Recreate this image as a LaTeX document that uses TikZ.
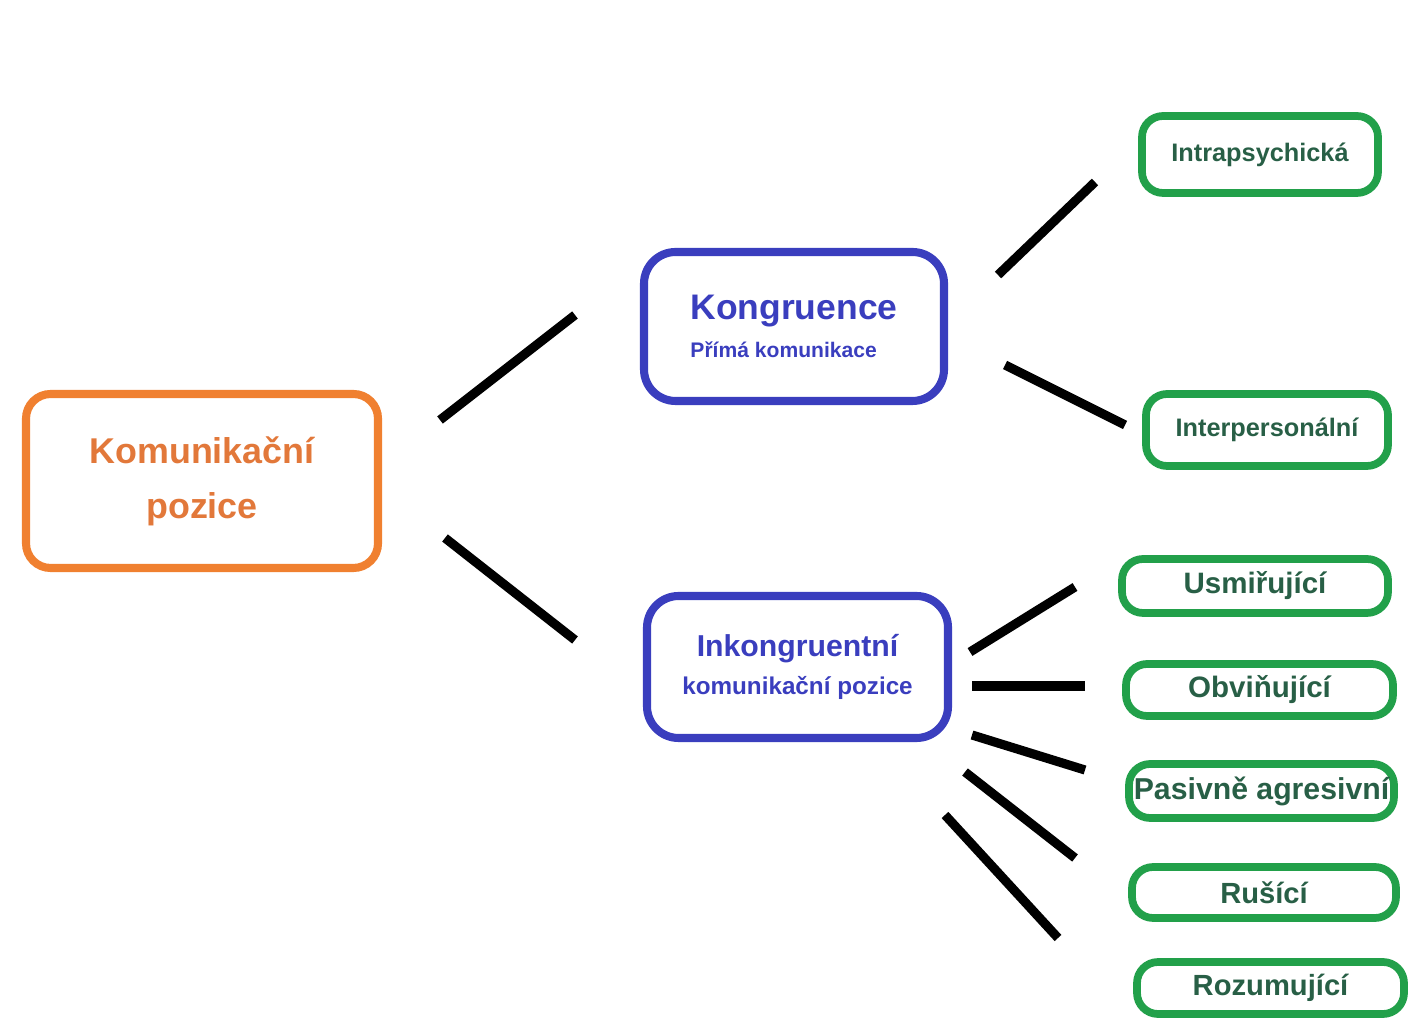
\documentclass[tikz,border=0pt]{standalone}
\usepackage{fontspec}
\setmainfont{Liberation Sans}
\usepackage{tikz}
\usetikzlibrary{positioning,calc}
\definecolor{kor}{RGB}{240,128,48}
\definecolor{kortext}{RGB}{226,120,58}
\definecolor{kblue}{RGB}{58,62,190}
\definecolor{kgreen}{RGB}{34,160,74}
\definecolor{kgtext}{RGB}{40,95,70}
\tikzset{
  orbox/.style={draw=kor,line width=2.3pt,rounded corners=7pt,text=kortext,font=\bfseries,align=center},
  blbox/.style={draw=kblue,line width=2.3pt,rounded corners=9pt,text=kblue,font=\bfseries},
  grbox/.style={draw=kgreen,line width=2.2pt,rounded corners=6pt,text=kgtext,font=\bfseries,inner sep=0pt},
  link/.style={line width=2.6pt,black}
}
\begin{document}
\begin{tikzpicture}
\useasboundingbox (0,0) rectangle (14.12,10.22);

\node [orbox,minimum width=3.52cm,minimum height=1.74cm,font=\bfseries\fontsize{10.2}{15.6}\selectfont] (kom) at (2.02,5.41)
  {Komunikační\\ pozice};

\node [blbox,minimum width=3.0cm,minimum height=1.49cm,align=left] (kon) at (7.94,6.955)
  {\fontsize{10.1}{13}\selectfont Kongruence\\[-1pt] \fontsize{6}{8}\selectfont Přímá komunikace};
\node [blbox,minimum width=3.01cm,minimum height=1.42cm,align=center] (ink) at (7.975,3.55)
  {\fontsize{8.6}{11}\selectfont Inkongruentní\\[-1pt] \fontsize{6.9}{9}\selectfont komunikační pozice};

% vetev kongruence
\node [grbox,minimum width=2.36cm,minimum height=0.77cm,font=\bfseries\fontsize{7.2}{9}\selectfont] (intra) at (12.60,8.675) {Intrapsychická};
\node [grbox,minimum width=2.42cm,minimum height=0.72cm,font=\bfseries\fontsize{7.2}{9}\selectfont] (inter) at (12.67,5.92) {Interpersonální};

% vetev inkongruence
\node [grbox,minimum width=2.66cm,minimum height=0.54cm,font=\bfseries\fontsize{8.4}{10}\selectfont] (usm) at (12.55,4.36) {Usmiřující};
\node [grbox,minimum width=2.67cm,minimum height=0.52cm,font=\bfseries\fontsize{8.4}{10}\selectfont] (obv) at (12.595,3.32) {Obviňující};
\node [grbox,minimum width=2.65cm,minimum height=0.54cm,font=\bfseries\fontsize{8.6}{10}\selectfont] (pas) at (12.615,2.31) {Pasivně agresivní};
\node [grbox,minimum width=2.64cm,minimum height=0.51cm,font=\bfseries\fontsize{8.3}{10}\selectfont] (rus) at (12.64,1.295) {Rušící};
\node [grbox,minimum width=2.67cm,minimum height=0.52cm,font=\bfseries\fontsize{8.3}{10}\selectfont] (roz) at (12.705,0.34) {Rozumující};

% konce car
\coordinate (a1) at (4.40,6.02);  \coordinate (b1) at (5.75,7.07);
\coordinate (a2) at (4.45,4.84);  \coordinate (b2) at (5.75,3.82);
\coordinate (a3) at (9.98,7.47);  \coordinate (b3) at (10.95,8.40);
\coordinate (a4) at (10.05,6.57); \coordinate (b4) at (11.25,5.97);
\coordinate (a5) at (9.70,3.70);  \coordinate (b5) at (10.75,4.35);
\coordinate (a6) at (9.72,3.36);  \coordinate (b6) at (10.85,3.36);
\coordinate (a7) at (9.72,2.87);  \coordinate (b7) at (10.85,2.52);
\coordinate (a8) at (9.65,2.50);  \coordinate (b8) at (10.75,1.64);
\coordinate (a9) at (9.45,2.07);  \coordinate (b9) at (10.58,0.84);

\foreach \i in {1,...,9}
  \draw [link] (a\i) -- (b\i);

\end{tikzpicture}
\end{document}
